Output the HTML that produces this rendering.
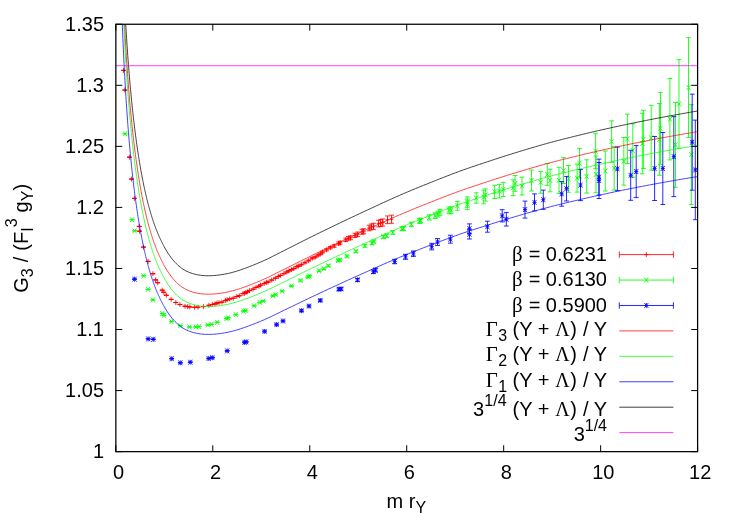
<!DOCTYPE html>
<html><head><meta charset="utf-8"><title>plot</title>
<style>html,body{margin:0;padding:0;background:#fff}body{width:732px;height:513px;overflow:hidden;font-family:"Liberation Sans",sans-serif}svg{display:block;will-change:transform}</style>
</head><body>
<svg width="732" height="513" viewBox="0 0 732 513">
<rect width="732" height="513" fill="#fff"/>
<g fill="none" stroke-linejoin="round">
<path d="M121.50,70.40H125.50M123.50,67.95V72.85M123.50,70.35V70.45M121.10,70.35H125.90M121.10,70.45H125.90M122.80,90.10H126.80M124.80,87.65V92.55M124.80,90.05V90.15M122.40,90.05H127.20M122.40,90.15H127.20M127.40,157.20H131.40M129.40,154.75V159.65M129.40,157.15V157.25M127.00,157.15H131.80M127.00,157.25H131.80M129.50,179.10H133.50M131.50,176.65V181.55M131.50,179.05V179.15M129.10,179.05H133.90M129.10,179.15H133.90M132.40,198.40H136.40M134.40,195.95V200.85M134.40,198.35V198.45M132.00,198.35H136.80M132.00,198.45H136.80M137.20,226.40H141.20M139.20,223.95V228.85M139.20,226.35V226.45M136.80,226.35H141.60M136.80,226.45H141.60M137.50,231.20H141.50M139.50,228.75V233.65M139.50,231.15V231.25M137.10,231.15H141.90M137.10,231.25H141.90M141.50,247.10H145.50M143.50,244.65V249.55M143.50,247.05V247.15M141.10,247.05H145.90M141.10,247.15H145.90M146.10,261.40H150.10M148.10,258.95V263.85M148.10,261.35V261.45M145.70,261.35H150.50M145.70,261.45H150.50M150.90,273.70H154.90M152.90,271.25V276.15M152.90,273.65V273.75M150.50,273.65H155.30M150.50,273.75H155.30M153.60,279.90H157.60M155.60,277.45V282.35M155.60,279.85V279.95M153.20,279.85H158.00M153.20,279.95H158.00M155.70,282.70H159.70M157.70,280.25V285.15M157.70,282.65V282.75M155.30,282.65H160.10M155.30,282.75H160.10M160.20,290.20H164.20M162.20,287.75V292.65M162.20,290.15V290.25M159.80,290.15H164.60M159.80,290.25H164.60M161.80,292.30H165.80M163.80,289.85V294.75M163.80,292.25V292.35M161.40,292.25H166.20M161.40,292.35H166.20M164.30,295.30H168.30M166.30,292.85V297.75M166.30,295.25V295.35M163.90,295.25H168.70M163.90,295.35H168.70M169.10,299.40H173.10M171.10,296.95V301.85M171.10,299.35V299.45M168.70,299.35H173.50M168.70,299.45H173.50M173.80,302.50H177.80M175.80,300.05V304.95M175.80,302.45V302.55M173.40,302.45H178.20M173.40,302.55H178.20M177.90,304.50H181.90M179.90,302.05V306.95M179.90,304.45V304.55M177.50,304.45H182.30M177.50,304.55H182.30M183.00,306.20H187.00M185.00,303.75V308.65M185.00,306.15V306.25M182.60,306.15H187.40M182.60,306.25H187.40M185.70,306.60H189.70M187.70,304.15V309.05M187.70,306.55V306.65M185.30,306.55H190.10M185.30,306.65H190.10M187.80,306.90H191.80M189.80,304.45V309.35M189.80,306.85V306.95M187.40,306.85H192.20M187.40,306.95H192.20M192.60,307.30H196.60M194.60,304.85V309.75M194.60,307.25V307.35M192.20,307.25H197.00M192.20,307.35H197.00M196.00,307.20H200.00M198.00,304.75V309.65M198.00,307.15V307.25M195.60,307.15H200.40M195.60,307.25H200.40M201.40,306.60H205.40M203.40,304.15V309.05M203.40,306.55V306.65M201.00,306.55H205.80M201.00,306.65H205.80M206.90,305.30H210.90M208.90,302.85V307.75M208.90,305.25V305.35M206.50,305.25H211.30M206.50,305.35H211.30M210.30,304.50H214.30M212.30,302.05V306.95M212.30,304.45V304.55M209.90,304.45H214.70M209.90,304.55H214.70M213.00,303.90H217.00M215.00,301.45V306.35M215.00,303.85V303.95M212.60,303.85H217.40M212.60,303.95H217.40M215.00,302.99H219.00M217.00,300.54V305.44M217.00,302.94V303.04M214.60,302.94H219.40M214.60,303.04H219.40M217.00,302.61H221.00M219.00,300.16V305.06M219.00,302.56V302.66M216.60,302.56H221.40M216.60,302.66H221.40M220.00,302.08H224.00M222.00,299.63V304.53M222.00,302.03V302.13M219.60,302.03H224.40M219.60,302.13H224.40M223.60,300.47H227.60M225.60,298.02V302.92M225.60,300.42V300.52M223.20,300.42H228.00M223.20,300.52H228.00M225.10,299.77H229.10M227.10,297.32V302.22M227.10,299.72V299.82M224.70,299.72H229.50M224.70,299.82H229.50M227.60,299.03H231.60M229.60,296.58V301.48M229.60,298.98V299.08M227.20,298.98H232.00M227.20,299.08H232.00M231.20,298.20H235.20M233.20,295.75V300.65M233.20,298.15V298.25M230.80,298.15H235.60M230.80,298.25H235.60M234.80,296.51H238.80M236.80,294.06V298.96M236.80,296.46V296.56M234.40,296.46H239.20M234.40,296.56H239.20M237.30,295.78H241.30M239.30,293.33V298.23M239.30,295.73V295.83M236.90,295.73H241.70M236.90,295.83H241.70M240.90,293.58H244.90M242.90,291.13V296.03M242.90,293.53V293.63M240.50,293.53H245.30M240.50,293.63H245.30M242.40,293.39H246.40M244.40,290.94V295.84M244.40,293.34V293.44M242.00,293.34H246.80M242.00,293.44H246.80M243.90,292.38H247.90M245.90,289.93V294.83M245.90,292.33V292.43M243.50,292.33H248.30M243.50,292.43H248.30M245.40,291.83H249.40M247.40,289.38V294.28M247.40,291.78V291.88M245.00,291.78H249.80M245.00,291.88H249.80M247.40,290.59H251.40M249.40,288.14V293.04M249.40,290.54V290.64M247.00,290.54H251.80M247.00,290.64H251.80M251.00,289.18H255.00M253.00,286.73V291.63M253.00,289.13V289.23M250.60,289.13H255.40M250.60,289.23H255.40M254.00,287.39H258.00M256.00,284.94V289.84M256.00,287.34V287.44M253.60,287.34H258.40M253.60,287.44H258.40M257.00,286.26H261.00M259.00,283.81V288.71M259.00,286.21V286.31M256.60,286.21H261.40M256.60,286.31H261.40M258.50,285.10H262.50M260.50,282.65V287.55M260.50,285.05V285.15M258.10,285.05H262.90M258.10,285.15H262.90M262.10,283.61H266.10M264.10,281.16V286.06M264.10,283.56V283.66M261.70,283.56H266.50M261.70,283.66H266.50M264.60,282.34H268.60M266.60,279.89V284.79M266.60,282.29V282.39M264.20,282.29H269.00M264.20,282.39H269.00M266.10,282.01H270.10M268.10,279.56V284.46M268.10,281.96V282.06M265.70,281.96H270.50M265.70,282.06H270.50M269.70,280.06H273.70M271.70,277.61V282.51M271.70,279.99V280.12M269.30,279.99H274.10M269.30,280.12H274.10M273.30,278.16H277.30M275.30,275.71V280.61M275.30,278.07V278.25M272.90,278.07H277.70M272.90,278.25H277.70M276.30,276.49H280.30M278.30,274.04V278.94M278.30,276.37V276.61M275.90,276.37H280.70M275.90,276.61H280.70M278.30,275.49H282.30M280.30,273.04V277.94M280.30,275.35V275.63M277.90,275.35H282.70M277.90,275.63H282.70M281.90,273.65H285.90M283.90,271.20V276.10M283.90,273.48V273.83M281.50,273.48H286.30M281.50,273.83H286.30M284.90,272.05H288.90M286.90,269.60V274.50M286.90,271.84V272.27M284.50,271.84H289.30M284.50,272.27H289.30M286.90,270.81H290.90M288.90,268.36V273.26M288.90,270.58V271.05M286.50,270.58H291.30M286.50,271.05H291.30M289.40,269.76H293.40M291.40,267.31V272.21M291.40,269.48V270.03M289.00,269.48H293.80M289.00,270.03H293.80M291.90,268.53H295.90M293.90,266.08V270.98M293.90,268.22V268.84M291.50,268.22H296.30M291.50,268.84H296.30M294.90,266.63H298.90M296.90,264.18V269.08M296.90,266.27V266.99M294.50,266.27H299.30M294.50,266.99H299.30M296.40,266.15H300.40M298.40,263.70V268.60M298.40,265.77V266.54M296.00,265.77H300.80M296.00,266.54H300.80M299.40,264.58H303.40M301.40,262.13V267.03M301.40,264.15V265.02M299.00,264.15H303.80M299.00,265.02H303.80M303.00,262.63H307.00M305.00,260.18V265.08M305.00,262.12V263.14M302.60,262.12H307.40M302.60,263.14H307.40M306.60,260.55H310.60M308.60,258.10V263.00M308.60,259.96V261.13M306.20,259.96H311.00M306.20,261.13H311.00M310.20,258.26H314.20M312.20,255.81V260.71M312.20,257.60V258.93M309.80,257.60H314.60M309.80,258.93H314.60M313.20,257.13H317.20M315.20,254.68V259.58M315.20,256.39V257.87M312.80,256.39H317.60M312.80,257.87H317.60M316.20,255.19H320.20M318.20,252.74V257.64M318.20,254.37V256.00M315.80,254.37H320.60M315.80,256.00H320.60M318.70,253.77H322.70M320.70,251.32V256.22M320.70,252.88V254.65M318.30,252.88H323.10M318.30,254.65H323.10M320.70,252.00H324.70M322.70,249.55V254.45M322.70,251.06V252.94M320.30,251.06H325.10M320.30,252.94H325.10M324.60,249.80H328.60M326.60,247.35V252.25M326.60,248.75V250.85M324.20,248.75H329.00M324.20,250.85H329.00M328.40,247.60H332.40M330.40,245.15V250.05M330.40,246.43V248.77M328.00,246.43H332.80M328.00,248.77H332.80M332.20,246.00H336.20M334.20,243.55V248.45M334.20,244.70V247.30M331.80,244.70H336.60M331.80,247.30H336.60M336.60,243.50H340.60M338.60,241.05V245.95M338.60,242.05V244.95M336.20,242.05H341.00M336.20,244.95H341.00M338.20,242.70H342.20M340.20,240.25V245.15M340.20,241.19V244.21M337.80,241.19H342.60M337.80,244.21H342.60M343.70,239.80H347.70M345.70,237.35V242.25M345.70,238.08V241.52M343.30,238.08H348.10M343.30,241.52H348.10M346.40,238.30H350.40M348.40,235.85V240.75M348.40,236.47V240.13M346.00,236.47H350.80M346.00,240.13H350.80M348.60,237.80H352.60M350.60,235.35V240.25M350.60,235.88V239.72M348.20,235.88H353.00M348.20,239.72H353.00M353.00,235.40H357.00M355.00,232.95V237.85M355.00,233.29V237.51M352.60,233.29H357.40M352.60,237.51H357.40M355.70,234.30H359.70M357.70,231.85V236.75M357.70,232.07V236.53M355.30,232.07H360.10M355.30,236.53H360.10M360.10,231.80H364.10M362.10,229.35V234.25M362.10,229.36V234.24M359.70,229.36H364.50M359.70,234.24H364.50M361.70,231.20H365.70M363.70,228.75V233.65M363.70,228.69V233.71M361.30,228.69H366.10M361.30,233.71H366.10M367.20,228.00H371.20M369.20,225.55V230.45M369.20,225.21V230.79M366.80,225.21H371.60M366.80,230.79H371.60M369.40,226.90H373.40M371.40,224.45V229.35M371.40,224.00V229.80M369.00,224.00H373.80M369.00,229.80H373.80M371.60,226.30H375.60M373.60,223.85V228.75M373.60,223.28V229.32M371.20,223.28H376.00M371.20,229.32H376.00M376.50,223.60H380.50M378.50,221.15V226.05M378.50,220.31V226.89M376.10,220.31H380.90M376.10,226.89H380.90M378.70,223.00H382.70M380.70,220.55V225.45M380.70,219.58V226.42M378.30,219.58H383.10M378.30,226.42H383.10M380.80,222.50H384.80M382.80,220.05V224.95M382.80,218.96V226.04M380.40,218.96H385.20M380.40,226.04H385.20M385.50,219.80H389.50M387.50,217.35V222.25M387.50,215.98V223.62M385.10,215.98H389.90M385.10,223.62H389.90M389.60,219.20H393.60M391.60,216.75V221.65M391.60,215.13V223.27M389.20,215.13H394.00M389.20,223.27H394.00" stroke="#f00" stroke-width="0.85"/>
<path d="M123.00,131.35L127.00,136.25M123.00,136.25L127.00,131.35M125.00,133.72V133.88M122.60,133.72H127.40M122.60,133.88H127.40M130.10,217.25L134.10,222.15M130.10,222.15L134.10,217.25M132.10,219.61V219.79M129.70,219.61H134.50M129.70,219.79H134.50M132.60,228.35L136.60,233.25M132.60,233.25L136.60,228.35M134.60,230.71V230.89M132.20,230.71H137.00M132.20,230.89H137.00M141.60,273.35L145.60,278.25M141.60,278.25L145.60,273.35M143.60,275.70V275.90M141.20,275.70H146.00M141.20,275.90H146.00M146.10,286.95L150.10,291.85M146.10,291.85L150.10,286.95M148.10,289.29V289.51M145.70,289.29H150.50M145.70,289.51H150.50M150.90,297.45L154.90,302.35M150.90,302.35L154.90,297.45M152.90,299.79V300.01M150.50,299.79H155.30M150.50,300.01H155.30M160.30,311.05L164.30,315.95M160.30,315.95L164.30,311.05M162.30,313.37V313.63M159.90,313.37H164.70M159.90,313.63H164.70M162.00,312.95L166.00,317.85M162.00,317.85L166.00,312.95M164.00,315.27V315.53M161.60,315.27H166.40M161.60,315.53H166.40M169.40,319.15L173.40,324.05M169.40,324.05L173.40,319.15M171.40,321.46V321.74M169.00,321.46H173.80M169.00,321.74H173.80M178.30,323.25L182.30,328.15M178.30,328.15L182.30,323.25M180.30,325.54V325.86M177.90,325.54H182.70M177.90,325.86H182.70M187.50,324.55L191.50,329.45M187.50,329.45L191.50,324.55M189.50,326.83V327.17M187.10,326.83H191.90M187.10,327.17H191.90M193.70,324.55L197.70,329.45M193.70,329.45L197.70,324.55M195.70,326.81V327.19M193.30,326.81H198.10M193.30,327.19H198.10M197.00,324.15L201.00,329.05M197.00,329.05L201.00,324.15M199.00,326.41V326.79M196.60,326.41H201.40M196.60,326.79H201.40M205.90,322.55L209.90,327.45M205.90,327.45L209.90,322.55M207.90,324.79V325.21M205.50,324.79H210.30M205.50,325.21H210.30M209.40,321.85L213.40,326.75M209.40,326.75L213.40,321.85M211.40,324.08V324.52M209.00,324.08H213.80M209.00,324.52H213.80M215.20,319.85L219.20,324.75M215.20,324.75L219.20,319.85M217.20,322.06V322.54M214.80,322.06H219.60M214.80,322.54H219.60M224.50,316.15L228.50,321.05M224.50,321.05L228.50,316.15M226.50,318.33V318.87M224.10,318.33H228.90M224.10,318.87H228.90M226.10,315.35L230.10,320.25M226.10,320.25L230.10,315.35M228.10,317.53V318.07M225.70,317.53H230.50M225.70,318.07H230.50M233.80,312.25L237.80,317.15M233.80,317.15L237.80,312.25M235.80,314.41V314.99M233.40,314.41H238.20M233.40,314.99H238.20M241.60,308.65L245.60,313.55M241.60,313.55L245.60,308.65M243.60,310.78V311.42M241.20,310.78H246.00M241.20,311.42H246.00M243.50,308.05L247.50,312.95M243.50,312.95L247.50,308.05M245.50,310.17V310.83M243.10,310.17H247.90M243.10,310.83H247.90M252.20,303.35L256.20,308.25M252.20,308.25L256.20,303.35M254.20,305.44V306.16M251.80,305.44H256.60M251.80,306.16H256.60M257.70,300.05L261.70,304.95M257.70,304.95L261.70,300.05M259.70,302.11V302.89M257.30,302.11H262.10M257.30,302.89H262.10M261.30,298.55L265.30,303.45M261.30,303.45L265.30,298.55M263.30,300.60V301.40M260.90,300.60H265.70M260.90,301.40H265.70M270.90,293.45L274.90,298.35M270.90,298.35L274.90,293.45M272.90,295.45V296.35M270.50,295.45H275.30M270.50,296.35H275.30M273.60,292.15L277.60,297.05M273.60,297.05L277.60,292.15M275.60,294.14V295.06M273.20,294.14H278.00M273.20,295.06H278.00M280.20,288.75L284.20,293.65M280.20,293.65L284.20,288.75M282.20,290.70V291.70M279.80,290.70H284.60M279.80,291.70H284.60M289.50,283.45L293.50,288.35M289.50,288.35L293.50,283.45M291.50,285.35V286.45M289.10,285.35H293.90M289.10,286.45H293.90M298.50,278.05L302.50,282.95M298.50,282.95L302.50,278.05M300.50,279.89V281.11M298.10,279.89H302.90M298.10,281.11H302.90M305.90,274.45L309.90,279.35M305.90,279.35L309.90,274.45M307.90,276.23V277.57M305.50,276.23H310.30M305.50,277.57H310.30M307.50,273.65L311.50,278.55M307.50,278.55L311.50,273.65M309.50,275.42V276.78M307.10,275.42H311.90M307.10,276.78H311.90M317.00,268.35L321.00,273.25M317.00,273.25L321.00,268.35M319.00,270.04V271.56M316.60,270.04H321.40M316.60,271.56H321.40M321.80,266.25L325.80,271.15M321.80,271.15L325.80,266.25M323.80,267.90V269.50M321.40,267.90H326.20M321.40,269.50H326.20M326.40,263.25L330.40,268.15M326.40,268.15L330.40,263.25M328.40,264.86V266.54M326.00,264.86H330.80M326.00,266.54H330.80M336.20,258.05L340.20,262.95M336.20,262.95L340.20,258.05M338.20,259.56V261.44M335.80,259.56H340.60M335.80,261.44H340.60M337.80,257.45L341.80,262.35M337.80,262.35L341.80,257.45M339.80,258.94V260.86M337.40,258.94H342.20M337.40,260.86H342.20M344.90,253.65L348.90,258.55M344.90,258.55L348.90,253.65M346.90,255.06V257.14M344.50,255.06H349.30M344.50,257.14H349.30M353.90,248.85L357.90,253.75M353.90,253.75L357.90,248.85M355.90,250.15V252.45M353.50,250.15H358.30M353.50,252.45H358.30M362.90,243.45L366.90,248.35M362.90,248.35L366.90,243.45M364.90,244.62V247.18M362.50,244.62H367.30M362.50,247.18H367.30M370.00,240.65L374.00,245.55M370.00,245.55L374.00,240.65M372.00,241.71V244.49M369.60,241.71H374.40M369.60,244.49H374.40M371.90,239.05L375.90,243.95M371.90,243.95L375.90,239.05M373.90,240.08V242.92M371.50,240.08H376.30M371.50,242.92H376.30M381.40,234.45L385.40,239.35M381.40,239.35L385.40,234.45M383.40,235.32V238.48M381.00,235.32H385.80M381.00,238.48H385.80M384.70,233.25L388.70,238.15M384.70,238.15L388.70,233.25M386.70,234.06V237.34M384.30,234.06H389.10M384.30,237.34H389.10M390.80,230.05L394.80,234.95M390.80,234.95L394.80,230.05M392.80,230.75V234.25M390.40,230.75H395.20M390.40,234.25H395.20M400.00,226.25L404.00,231.15M400.00,231.15L404.00,226.25M402.00,226.75V230.65M399.60,226.75H404.40M399.60,230.65H404.40M401.60,225.95L405.60,230.85M401.60,230.85L405.60,225.95M403.60,226.42V230.38M401.20,226.42H406.00M401.20,230.38H406.00M409.30,221.85L413.30,226.75M409.30,226.75L413.30,221.85M411.30,222.13V226.47M408.90,222.13H413.70M408.90,226.47H413.70M417.50,218.55L421.50,223.45M417.50,223.45L421.50,218.55M419.50,218.62V223.38M417.10,218.62H421.90M417.10,223.38H421.90M418.70,218.05L422.70,222.95M418.70,222.95L422.70,218.05M420.70,218.09V222.91M418.30,218.09H423.10M418.30,222.91H423.10M427.30,214.95L431.30,219.85M427.30,219.85L431.30,214.95M429.30,214.74V220.06M426.90,214.74H431.70M426.90,220.06H431.70M433.10,213.25L437.10,218.15M433.10,218.15L437.10,213.25M435.10,212.86V218.54M432.70,212.86H437.50M432.70,218.54H437.50M436.00,211.65L440.00,216.55M436.00,216.55L440.00,211.65M438.00,211.17V217.03M435.60,211.17H440.40M435.60,217.03H440.40M438.00,209.85L442.00,214.75M438.00,214.75L442.00,209.85M440.00,209.30V215.30M437.60,209.30H442.40M437.60,215.30H442.40M446.90,207.85L450.90,212.75M446.90,212.75L450.90,207.85M448.90,206.90V213.70M446.50,206.90H451.30M446.50,213.70H451.30M449.20,207.85L453.20,212.75M449.20,212.75L453.20,207.85M451.20,206.90V213.70M448.80,206.90H453.60M448.80,213.70H453.60M455.30,203.35L459.30,208.25M455.30,208.25L459.30,203.35M457.30,201.40V210.20M454.90,201.40H459.70M454.90,210.20H459.70M465.30,199.65L469.30,204.55M465.30,204.55L469.30,199.65M467.30,196.90V207.30M464.90,196.90H469.70M464.90,207.30H469.70M465.30,201.75L469.30,206.65M465.30,206.65L469.30,201.75M467.30,199.00V209.40M464.90,199.00H469.70M464.90,209.40H469.70M474.20,195.55L478.20,200.45M474.20,200.45L478.20,195.55M476.20,192.80V203.20M473.80,192.80H478.60M473.80,203.20H478.60M481.70,194.55L485.70,199.45M481.70,199.45L485.70,194.55M483.70,190.20V203.80M481.30,190.20H486.10M481.30,203.80H486.10M483.40,192.55L487.40,197.45M483.40,197.45L487.40,192.55M485.40,188.90V201.10M483.00,188.90H487.80M483.00,201.10H487.80M492.60,189.45L496.60,194.35M492.60,194.35L496.60,189.45M494.60,185.30V198.50M492.20,185.30H497.00M492.20,198.50H497.00M497.40,188.75L501.40,193.65M497.40,193.65L501.40,188.75M499.40,184.40V198.00M497.00,184.40H501.80M497.00,198.00H501.80M501.30,186.95L505.30,191.85M501.30,191.85L505.30,186.95M503.30,182.30V196.50M500.90,182.30H505.70M500.90,196.50H505.70M511.10,185.35L515.10,190.25M511.10,190.25L515.10,185.35M513.10,179.90V195.70M510.70,179.90H515.50M510.70,195.70H515.50M513.10,180.95L517.10,185.85M513.10,185.85L517.10,180.95M515.10,175.50V191.30M512.70,175.50H517.50M512.70,191.30H517.50M520.00,183.65L524.00,188.55M520.00,188.55L524.00,183.65M522.00,177.20V195.00M519.60,177.20H524.40M519.60,195.00H524.40M529.50,178.05L533.50,182.95M529.50,182.95L533.50,178.05M531.50,170.00V191.00M529.10,170.00H533.90M529.10,191.00H533.90M538.70,179.85L542.70,184.75M538.70,184.75L542.70,179.85M540.70,171.40V193.20M538.30,171.40H543.10M538.30,193.20H543.10M545.30,171.95L549.30,176.85M545.30,176.85L549.30,171.95M547.30,163.50V185.30M544.90,163.50H549.70M544.90,185.30H549.70M548.10,178.05L552.10,182.95M548.10,182.95L552.10,178.05M550.10,169.20V191.80M547.70,169.20H552.50M547.70,191.80H552.50M557.00,177.85L561.00,182.75M557.00,182.75L561.00,177.85M559.00,167.30V193.30M556.60,167.30H561.40M556.60,193.30H561.40M561.50,168.15L565.50,173.05M561.50,173.05L565.50,168.15M563.50,157.70V183.50M561.10,157.70H565.90M561.10,183.50H565.90M566.50,176.45L570.50,181.35M566.50,181.35L570.50,176.45M568.50,165.50V192.30M566.10,165.50H570.90M566.10,192.30H570.90M575.10,175.65L579.10,180.55M575.10,180.55L579.10,175.65M577.10,164.10V192.10M574.70,164.10H579.50M574.70,192.10H579.50M577.50,160.75L581.50,165.65M577.50,165.65L581.50,160.75M579.50,148.40V178.00M577.10,148.40H581.90M577.10,178.00H581.90M584.70,173.95L588.70,178.85M584.70,178.85L588.70,173.95M586.70,159.80V193.00M584.30,159.80H589.10M584.30,193.00H589.10M593.60,148.75L597.60,153.65M593.60,153.65L597.60,148.75M595.60,133.70V168.70M593.20,133.70H598.00M593.20,168.70H598.00M594.00,171.95L598.00,176.85M594.00,176.85L598.00,171.95M596.00,156.00V192.80M593.60,156.00H598.40M593.60,192.80H598.40M603.30,168.55L607.30,173.45M603.30,173.45L607.30,168.55M605.30,151.00V191.00M602.90,151.00H607.70M602.90,191.00H607.70M609.60,139.15L613.60,144.05M609.60,144.05L613.60,139.15M611.60,120.80V162.40M609.20,120.80H614.00M609.20,162.40H614.00M612.20,165.75L616.20,170.65M612.20,170.65L616.20,165.75M614.20,146.40V190.00M611.80,146.40H616.60M611.80,190.00H616.60M621.80,158.85L625.80,163.75M621.80,163.75L625.80,158.85M623.80,137.50V185.10M621.40,137.50H626.20M621.40,185.10H626.20M625.40,136.45L629.40,141.35M625.40,141.35L629.40,136.45M627.40,114.20V163.60M625.00,114.20H629.80M625.00,163.60H629.80M630.80,148.05L634.80,152.95M630.80,152.95L634.80,148.05M632.80,123.80V177.20M630.40,123.80H635.20M630.40,177.20H635.20M640.30,141.05L644.30,145.95M640.30,145.95L644.30,141.05M642.30,113.20V173.80M639.90,113.20H644.70M639.90,173.80H644.70M641.40,136.95L645.40,141.85M641.40,141.85L645.40,136.95M643.40,110.30V168.50M641.00,110.30H645.80M641.00,168.50H645.80M649.20,135.25L653.20,140.15M649.20,140.15L653.20,135.25M651.20,105.30V170.10M648.80,105.30H653.60M648.80,170.10H653.60M657.40,136.95L661.40,141.85M657.40,141.85L661.40,136.95M659.40,103.50V175.30M657.00,103.50H661.80M657.00,175.30H661.80M658.50,126.05L662.50,130.95M658.50,130.95L662.50,126.05M660.50,92.60V164.40M658.10,92.60H662.90M658.10,164.40H662.90M667.90,116.75L671.90,121.65M667.90,121.65L671.90,116.75M669.90,78.50V159.90M667.50,78.50H672.30M667.50,159.90H672.30M673.50,142.45L677.50,147.35M673.50,147.35L677.50,142.45M675.50,102.50V187.30M673.10,102.50H677.90M673.10,187.30H677.90M677.00,101.45L681.00,106.35M677.00,106.35L681.00,101.45M679.00,59.60V148.20M676.60,59.60H681.40M676.60,148.20H681.40M686.50,85.15L690.50,90.05M686.50,90.05L690.50,85.15M688.50,37.60V137.60M686.10,37.60H690.90M686.10,137.60H690.90M689.30,152.15L693.30,157.05M689.30,157.05L693.30,152.15M691.30,104.60V204.60M688.90,104.60H693.70M688.90,204.60H693.70" stroke="#0f0" stroke-width="0.85"/>
<path d="M132.55,279.15H136.55M134.55,276.70V281.60M132.55,276.70L136.55,281.60M132.55,281.60L136.55,276.70M134.55,279.00V279.30M132.15,279.00H136.95M132.15,279.30H136.95M146.20,338.90H150.20M148.20,336.45V341.35M146.20,336.45L150.20,341.35M146.20,341.35L150.20,336.45M148.20,338.72V339.08M145.80,338.72H150.60M145.80,339.08H150.60M151.30,339.30H155.30M153.30,336.85V341.75M151.30,336.85L155.30,341.75M151.30,341.75L155.30,336.85M153.30,339.11V339.49M150.90,339.11H155.70M150.90,339.49H155.70M169.70,358.70H173.70M171.70,356.25V361.15M169.70,356.25L173.70,361.15M169.70,361.15L173.70,356.25M171.70,358.48V358.92M169.30,358.48H174.10M169.30,358.92H174.10M178.30,362.80H182.30M180.30,360.35V365.25M178.30,360.35L182.30,365.25M178.30,365.25L182.30,360.35M180.30,362.56V363.04M177.90,362.56H182.70M177.90,363.04H182.70M188.30,362.20H192.30M190.30,359.75V364.65M188.30,359.75L192.30,364.65M188.30,364.65L192.30,359.75M190.30,361.93V362.47M187.90,361.93H192.70M187.90,362.47H192.70M206.70,358.50H210.70M208.70,356.05V360.95M206.70,356.05L210.70,360.95M206.70,360.95L210.70,356.05M208.70,358.17V358.83M206.30,358.17H211.10M206.30,358.83H211.10M210.40,357.70H214.40M212.40,355.25V360.15M210.40,355.25L214.40,360.15M210.40,360.15L214.40,355.25M212.40,357.36V358.04M210.00,357.36H214.80M210.00,358.04H214.80M225.20,350.90H229.20M227.20,348.45V353.35M225.20,348.45L229.20,353.35M225.20,353.35L229.20,348.45M227.20,350.50V351.30M224.80,350.50H229.60M224.80,351.30H229.60M242.50,342.30H246.50M244.50,339.85V344.75M242.50,339.85L246.50,344.75M242.50,344.75L246.50,339.85M244.50,341.83V342.77M242.10,341.83H246.90M242.10,342.77H246.90M244.20,341.90H248.20M246.20,339.45V344.35M244.20,339.45L248.20,344.35M244.20,344.35L248.20,339.45M246.20,341.42V342.38M243.80,341.42H248.60M243.80,342.38H248.60M262.60,331.40H266.60M264.60,328.95V333.85M262.60,328.95L266.60,333.85M262.60,333.85L266.60,328.95M264.60,330.82V331.98M262.20,330.82H267.00M262.20,331.98H267.00M274.60,324.60H278.60M276.60,322.15V327.05M274.60,322.15L278.60,327.05M274.60,327.05L278.60,322.15M276.60,323.94V325.26M274.20,323.94H279.00M274.20,325.26H279.00M281.00,321.00H285.00M283.00,318.55V323.45M281.00,318.55L285.00,323.45M281.00,323.45L285.00,318.55M283.00,320.29V321.71M280.60,320.29H285.40M280.60,321.71H285.40M299.50,310.70H303.50M301.50,308.25V313.15M299.50,308.25L303.50,313.15M299.50,313.15L303.50,308.25M301.50,309.85V311.55M299.10,309.85H303.90M299.10,311.55H303.90M307.00,306.10H311.00M309.00,303.65V308.55M307.00,303.65L311.00,308.55M307.00,308.55L311.00,303.65M309.00,305.18V307.02M306.60,305.18H311.40M306.60,307.02H311.40M318.30,300.40H322.30M320.30,297.95V302.85M318.30,297.95L322.30,302.85M318.30,302.85L322.30,297.95M320.30,299.36V301.44M317.90,299.36H322.70M317.90,301.44H322.70M336.90,289.30H340.90M338.90,286.85V291.75M336.90,286.85L340.90,291.75M336.90,291.75L340.90,286.85M338.90,288.04V290.56M336.50,288.04H341.30M336.50,290.56H341.30M339.10,288.90H343.10M341.10,286.45V291.35M339.10,286.45L343.10,291.35M339.10,291.35L343.10,286.45M341.10,287.62V290.18M338.70,287.62H343.50M338.70,290.18H343.50M355.50,279.90H359.50M357.50,277.45V282.35M355.50,277.45L359.50,282.35M355.50,282.35L359.50,277.45M357.50,278.38V281.42M355.10,278.38H359.90M355.10,281.42H359.90M371.40,271.70H375.40M373.40,269.25V274.15M371.40,269.25L375.40,274.15M371.40,274.15L375.40,269.25M373.40,269.91V273.49M371.00,269.91H375.80M371.00,273.49H375.80M373.60,270.10H377.60M375.60,267.65V272.55M373.60,267.65L377.60,272.55M373.60,272.55L377.60,267.65M375.60,268.27V271.93M373.20,268.27H378.00M373.20,271.93H378.00M392.70,261.50H396.70M394.70,259.05V263.95M392.70,259.05L396.70,263.95M392.70,263.95L396.70,259.05M394.70,259.27V263.73M392.30,259.27H397.10M392.30,263.73H397.10M403.50,256.80H407.50M405.50,254.35V259.25M403.50,254.35L407.50,259.25M403.50,259.25L407.50,254.35M405.50,254.31V259.29M403.10,254.31H407.90M403.10,259.29H407.90M411.40,253.70H415.40M413.40,251.25V256.15M411.40,251.25L415.40,256.15M411.40,256.15L415.40,251.25M413.40,250.99V256.41M411.00,250.99H415.80M411.00,256.41H415.80M429.70,246.60H433.70M431.70,244.15V249.05M429.70,244.15L433.70,249.05M429.70,249.05L433.70,244.15M431.70,243.33V249.87M429.30,243.33H434.10M429.30,249.87H434.10M435.50,242.00H439.50M437.50,239.55V244.45M435.50,239.55L439.50,244.45M435.50,244.45L439.50,239.55M437.50,238.53V245.47M435.10,238.53H439.90M435.10,245.47H439.90M448.40,239.20H452.40M450.40,236.75V241.65M448.40,236.75L452.40,241.65M448.40,241.65L452.40,236.75M450.40,235.24V243.16M448.00,235.24H452.80M448.00,243.16H452.80M467.40,228.70H471.40M469.40,226.25V231.15M467.40,226.25L471.40,231.15M467.40,231.15L471.40,226.25M469.40,223.90V233.50M467.00,223.90H471.80M467.00,233.50H471.80M467.40,234.20H471.40M469.40,231.75V236.65M467.40,231.75L471.40,236.65M467.40,236.65L471.40,231.75M469.40,229.40V239.00M467.00,229.40H471.80M467.00,239.00H471.80M485.40,226.70H489.40M487.40,224.25V229.15M485.40,224.25L489.40,229.15M485.40,229.15L489.40,224.25M487.40,221.20V232.20M485.00,221.20H489.80M485.00,232.20H489.80M500.20,215.80H504.20M502.20,213.35V218.25M500.20,213.35L504.20,218.25M500.20,218.25L504.20,213.35M502.20,209.70V221.90M499.80,209.70H504.60M499.80,221.90H504.60M504.30,219.20H508.30M506.30,216.75V221.65M504.30,216.75L508.30,221.65M504.30,221.65L508.30,216.75M506.30,212.40V226.00M503.90,212.40H508.70M503.90,226.00H508.70M523.00,209.60H527.00M525.00,207.15V212.05M523.00,207.15L527.00,212.05M523.00,212.05L527.00,207.15M525.00,201.10V218.10M522.60,201.10H527.40M522.60,218.10H527.40M532.50,202.40H536.50M534.50,199.95V204.85M532.50,199.95L536.50,204.85M532.50,204.85L536.50,199.95M534.50,193.90V210.90M532.10,193.90H536.90M532.10,210.90H536.90M541.30,199.70H545.30M543.30,197.25V202.15M541.30,197.25L545.30,202.15M541.30,202.15L545.30,197.25M543.30,190.10V209.30M540.90,190.10H545.70M540.90,209.30H545.70M559.70,193.90H563.70M561.70,191.45V196.35M559.70,191.45L563.70,196.35M559.70,196.35L563.70,191.45M561.70,181.60V206.20M559.30,181.60H564.10M559.30,206.20H564.10M564.50,188.70H568.50M566.50,186.25V191.15M564.50,186.25L568.50,191.15M564.50,191.15L568.50,186.25M566.50,176.40V201.00M564.10,176.40H568.90M564.10,201.00H568.90M578.50,185.10H582.50M580.50,182.65V187.55M578.50,182.65L582.50,187.55M578.50,187.55L582.50,182.65M580.50,169.60V200.60M578.10,169.60H582.90M578.10,200.60H582.90M597.00,177.10H601.00M599.00,174.65V179.55M597.00,174.65L601.00,179.55M597.00,179.55L601.00,174.65M599.00,159.10V195.10M596.60,159.10H601.40M596.60,195.10H601.40M597.00,180.50H601.00M599.00,178.05V182.95M597.00,178.05L601.00,182.95M597.00,182.95L601.00,178.05M599.00,162.50V198.50M596.60,162.50H601.40M596.60,198.50H601.40M615.40,168.90H619.40M617.40,166.45V171.35M615.40,166.45L619.40,171.35M615.40,171.35L619.40,166.45M617.40,147.10V190.70M615.00,147.10H619.80M615.00,190.70H619.80M628.70,175.30H632.70M630.70,172.85V177.75M628.70,172.85L632.70,177.75M628.70,177.75L632.70,172.85M630.70,150.30V200.30M628.30,150.30H633.10M628.30,200.30H633.10M634.20,171.60H638.20M636.20,169.15V174.05M634.20,169.15L638.20,174.05M634.20,174.05L638.20,169.15M636.20,145.60V197.60M633.80,145.60H638.60M633.80,197.60H638.60M652.60,168.50H656.60M654.60,166.05V170.95M652.60,166.05L656.60,170.95M652.60,170.95L656.60,166.05M654.60,136.50V200.50M652.20,136.50H657.00M652.20,200.50H657.00M660.80,168.50H664.80M662.80,166.05V170.95M660.80,166.05L664.80,170.95M660.80,170.95L664.80,166.05M662.80,132.50V204.50M660.40,132.50H665.20M660.40,204.50H665.20M671.80,156.60H675.80M673.80,154.15V159.05M671.80,154.15L675.80,159.05M671.80,159.05L675.80,154.15M673.80,116.60V196.60M671.40,116.60H676.20M671.40,196.60H676.20M690.20,142.20H694.20M692.20,139.75V144.65M690.20,139.75L694.20,144.65M690.20,144.65L694.20,139.75M692.20,94.20V190.20M689.80,94.20H694.60M689.80,190.20H694.60M693.30,169.90H697.30M695.30,167.45V172.35M693.30,167.45L697.30,172.35M693.30,172.35L697.30,167.45M695.30,120.10V219.70M692.90,120.10H697.70M692.90,219.70H697.70" stroke="#00f" stroke-width="0.85"/>
<path d="M124.52,24.30 L124.52,24.40 L124.75,28.80 L124.98,33.08 L125.22,37.24 L125.45,41.29 L125.68,45.24 L125.91,49.08 L126.14,52.83 L126.37,56.49 L126.60,60.07 L126.84,63.56 L127.07,66.97 L127.30,70.30 L127.53,73.56 L127.76,76.75 L127.99,79.87 L128.22,82.92 L128.45,85.91 L128.69,88.85 L128.92,91.72 L129.15,94.53 L129.38,97.29 L129.61,100.00 L129.84,102.66 L130.07,105.26 L130.31,107.82 L130.54,110.33 L130.77,112.80 L131.00,115.22 L131.23,117.61 L131.46,119.94 L131.69,122.24 L131.93,124.50 L132.16,126.73 L132.39,128.91 L132.62,131.06 L132.85,133.17 L133.08,135.25 L133.31,137.30 L133.55,139.32 L133.78,141.30 L134.01,143.25 L134.24,145.17 L134.47,147.07 L134.70,148.93 L134.93,150.77 L135.17,152.58 L135.40,154.36 L135.63,156.11 L135.86,157.85 L136.09,159.55 L136.32,161.23 L136.55,162.89 L136.79,164.52 L137.02,166.13 L137.25,167.72 L137.48,169.29 L137.71,170.83 L137.94,172.36 L138.17,173.86 L138.40,175.34 L138.64,176.81 L138.87,178.25 L139.10,179.67 L139.33,181.08 L139.56,182.47 L139.79,183.83 L140.02,185.19 L140.26,186.52 L140.49,187.84 L140.72,189.14 L140.95,190.42 L141.18,191.69 L141.41,192.94 L141.64,194.17 L141.88,195.39 L142.11,196.59 L142.34,197.78 L142.57,198.96 L142.80,200.12 L143.03,201.27 L143.26,202.40 L143.50,203.52 L143.73,204.62 L143.96,205.71 L144.19,206.79 L144.42,207.86 L144.65,208.91 L144.88,209.95 L145.12,210.98 L145.35,211.99 L145.58,212.99 L145.81,213.98 L146.04,214.96 L146.27,215.93 L146.50,216.89 L146.73,217.83 L146.97,218.76 L147.20,219.69 L147.43,220.60 L147.66,221.50 L147.89,222.39 L148.12,223.28 L148.35,224.15 L148.59,225.01 L148.82,225.86 L149.05,226.70 L149.28,227.53 L149.51,228.36 L149.74,229.17 L149.97,229.98 L150.21,230.77 L150.44,231.55 L150.67,232.32 L150.90,233.08 L151.13,233.83 L151.36,234.58 L151.59,235.31 L151.83,236.04 L152.06,236.76 L152.29,237.47 L152.52,238.18 L152.75,238.88 L152.98,239.56 L153.21,240.24 L153.45,240.92 L153.68,241.58 L153.91,242.24 L154.14,242.89 L154.37,243.54 L154.60,244.17 L154.83,244.80 L155.07,245.43 L155.30,246.04 L155.53,246.65 L155.76,247.26 L155.99,247.85 L156.22,248.44 L156.45,249.03 L156.68,249.61 L156.92,250.18 L157.15,250.74 L157.38,251.30 L157.61,251.85 L157.84,252.40 L158.07,252.94 L158.30,253.47 L158.54,254.00 L158.77,254.52 L159.00,255.04 L159.23,255.55 L159.46,256.06 L159.69,256.56 L159.92,257.05 L160.16,257.55 L160.39,258.05 L160.62,258.54 L160.85,259.03 L161.08,259.51 L161.31,259.99 L161.54,260.46 L161.78,260.93 L162.01,261.39 L162.24,261.85 L162.47,262.30 L162.70,262.75 L162.93,263.19 L163.16,263.63 L163.40,264.06 L163.63,264.49 L163.86,264.91 L164.09,265.33 L164.32,265.75 L165.66,268.08 L166.99,270.30 L168.33,272.38 L169.67,274.34 L171.00,276.16 L172.34,277.86 L173.67,279.46 L175.01,280.95 L176.35,282.30 L177.68,283.57 L179.02,284.75 L180.36,285.83 L181.69,286.80 L183.03,287.70 L184.37,288.53 L185.70,289.26 L187.04,289.92 L188.37,290.51 L189.71,291.04 L191.05,291.53 L192.38,291.97 L193.72,292.36 L195.06,292.70 L196.39,293.01 L197.73,293.28 L199.06,293.51 L200.40,293.70 L201.74,293.86 L203.07,293.99 L204.41,294.08 L205.75,294.14 L207.08,294.18 L208.42,294.19 L209.75,294.17 L211.09,294.14 L212.43,294.08 L213.76,294.00 L215.10,293.89 L216.44,293.76 L217.77,293.61 L219.11,293.44 L220.44,293.26 L221.78,293.06 L223.12,292.85 L224.45,292.61 L225.79,292.37 L227.13,292.11 L228.46,291.83 L229.80,291.54 L231.14,291.21 L232.47,290.87 L233.81,290.51 L235.14,290.14 L236.48,289.73 L237.82,289.32 L239.15,288.89 L240.49,288.44 L241.83,287.98 L243.16,287.51 L244.50,287.04 L245.83,286.55 L247.17,286.05 L248.51,285.55 L249.84,285.03 L251.18,284.52 L252.52,283.99 L253.85,283.46 L255.19,282.92 L256.52,282.37 L257.86,281.82 L259.20,281.26 L260.53,280.69 L261.87,280.11 L263.21,279.53 L264.54,278.94 L265.88,278.33 L267.22,277.70 L268.55,277.07 L269.89,276.44 L271.22,275.78 L272.56,275.11 L273.90,274.44 L275.23,273.76 L276.57,273.10 L277.91,272.43 L279.24,271.75 L280.58,271.08 L281.91,270.42 L283.25,269.76 L284.59,269.10 L285.92,268.43 L287.26,267.77 L288.60,267.10 L289.93,266.44 L291.27,265.77 L292.60,265.10 L293.94,264.44 L295.28,263.77 L296.61,263.10 L297.95,262.44 L299.29,261.77 L300.62,261.10 L301.96,260.44 L303.29,259.77 L304.63,259.11 L305.97,258.45 L307.30,257.79 L308.64,257.13 L309.98,256.47 L311.31,255.82 L312.65,255.16 L313.99,254.51 L315.32,253.86 L316.66,253.21 L317.99,252.56 L319.33,251.92 L320.67,251.27 L322.00,250.63 L323.34,249.98 L324.68,249.34 L326.01,248.70 L327.35,248.06 L328.68,247.43 L330.02,246.79 L331.36,246.15 L332.69,245.51 L334.03,244.88 L335.37,244.24 L336.70,243.61 L338.04,242.97 L339.37,242.34 L340.71,241.71 L342.05,241.08 L343.38,240.45 L344.72,239.82 L346.06,239.19 L347.39,238.56 L348.73,237.94 L350.06,237.31 L351.40,236.69 L352.74,236.07 L354.07,235.45 L355.41,234.83 L356.75,234.21 L358.08,233.60 L359.42,232.98 L360.76,232.37 L362.09,231.75 L363.43,231.14 L364.76,230.53 L366.10,229.91 L367.44,229.30 L368.77,228.69 L370.11,228.08 L371.45,227.46 L372.78,226.85 L374.12,226.24 L375.45,225.63 L376.79,225.02 L378.13,224.41 L379.46,223.80 L380.80,223.19 L382.14,222.58 L383.47,221.97 L384.81,221.37 L386.14,220.76 L387.48,220.16 L388.82,219.56 L390.15,218.97 L391.49,218.37 L392.83,217.78 L394.16,217.19 L395.50,216.61 L396.84,216.03 L398.17,215.45 L399.51,214.87 L400.84,214.30 L402.18,213.73 L403.52,213.17 L404.85,212.61 L406.19,212.05 L407.53,211.49 L408.86,210.94 L410.20,210.38 L411.53,209.83 L412.87,209.29 L414.21,208.74 L415.54,208.20 L416.88,207.65 L418.22,207.11 L419.55,206.58 L420.89,206.04 L422.22,205.50 L423.56,204.97 L424.90,204.44 L426.23,203.91 L427.57,203.38 L428.91,202.85 L430.24,202.32 L431.58,201.79 L432.91,201.27 L434.25,200.74 L435.59,200.22 L436.92,199.69 L438.26,199.17 L439.60,198.65 L440.93,198.12 L442.27,197.60 L443.61,197.09 L444.94,196.57 L446.28,196.06 L447.61,195.54 L448.95,195.03 L450.29,194.53 L451.62,194.02 L452.96,193.52 L454.30,193.02 L455.63,192.52 L456.97,192.03 L458.30,191.54 L459.64,191.06 L460.98,190.58 L462.31,190.10 L463.65,189.63 L464.99,189.16 L466.32,188.70 L467.66,188.24 L468.99,187.78 L470.33,187.33 L471.67,186.88 L473.00,186.43 L474.34,185.99 L475.68,185.54 L477.01,185.10 L478.35,184.66 L479.68,184.23 L481.02,183.79 L482.36,183.35 L483.69,182.91 L485.03,182.48 L486.37,182.04 L487.70,181.60 L489.04,181.17 L490.38,180.73 L491.71,180.29 L493.05,179.86 L494.38,179.42 L495.72,178.99 L497.06,178.56 L498.39,178.13 L499.73,177.70 L501.07,177.27 L502.40,176.85 L503.74,176.43 L505.07,176.01 L506.41,175.59 L507.75,175.17 L509.08,174.76 L510.42,174.34 L511.76,173.93 L513.09,173.52 L514.43,173.11 L515.76,172.71 L517.10,172.30 L518.44,171.90 L519.77,171.50 L521.11,171.10 L522.45,170.70 L523.78,170.30 L525.12,169.90 L526.46,169.50 L527.79,169.11 L529.13,168.72 L530.46,168.32 L531.80,167.93 L533.14,167.54 L534.47,167.15 L535.81,166.77 L537.15,166.38 L538.48,166.00 L539.82,165.62 L541.15,165.24 L542.49,164.87 L543.83,164.49 L545.16,164.12 L546.50,163.75 L547.84,163.39 L549.17,163.02 L550.51,162.66 L551.84,162.31 L553.18,161.95 L554.52,161.60 L555.85,161.25 L557.19,160.91 L558.53,160.57 L559.86,160.23 L561.20,159.89 L562.53,159.56 L563.87,159.22 L565.21,158.89 L566.54,158.56 L567.88,158.23 L569.22,157.91 L570.55,157.58 L571.89,157.25 L573.23,156.93 L574.56,156.61 L575.90,156.28 L577.23,155.96 L578.57,155.64 L579.91,155.31 L581.24,154.99 L582.58,154.67 L583.92,154.35 L585.25,154.03 L586.59,153.71 L587.92,153.40 L589.26,153.08 L590.60,152.77 L591.93,152.46 L593.27,152.15 L594.61,151.84 L595.94,151.53 L597.28,151.23 L598.61,150.92 L599.95,150.62 L601.29,150.32 L602.62,150.02 L603.96,149.72 L605.30,149.42 L606.63,149.12 L607.97,148.83 L609.30,148.54 L610.64,148.24 L611.98,147.95 L613.31,147.66 L614.65,147.38 L615.99,147.09 L617.32,146.80 L618.66,146.52 L620.00,146.23 L621.33,145.95 L622.67,145.67 L624.00,145.39 L625.34,145.11 L626.68,144.83 L628.01,144.55 L629.35,144.27 L630.69,144.00 L632.02,143.73 L633.36,143.45 L634.69,143.18 L636.03,142.91 L637.37,142.64 L638.70,142.38 L640.04,142.11 L641.38,141.85 L642.71,141.58 L644.05,141.32 L645.38,141.06 L646.72,140.80 L648.06,140.54 L649.39,140.28 L650.73,140.02 L652.07,139.76 L653.40,139.51 L654.74,139.25 L656.08,139.00 L657.41,138.75 L658.75,138.50 L660.08,138.24 L661.42,137.99 L662.76,137.75 L664.09,137.50 L665.43,137.25 L666.77,137.01 L668.10,136.76 L669.44,136.52 L670.77,136.27 L672.11,136.03 L673.45,135.79 L674.78,135.55 L676.12,135.31 L677.46,135.08 L678.79,134.84 L680.13,134.60 L681.46,134.37 L682.80,134.13 L684.14,133.90 L685.47,133.67 L686.81,133.44 L688.15,133.21 L689.48,132.98 L690.82,132.75 L692.15,132.52 L693.49,132.30 L694.83,132.07 L696.16,131.86 L697.50,131.65" stroke="#f00" stroke-width="0.75"/>
<path d="M123.78,24.30 L123.83,25.24 L124.06,30.01 L124.29,34.63 L124.52,39.12 L124.75,43.48 L124.98,47.72 L125.22,51.84 L125.45,55.86 L125.68,59.77 L125.91,63.58 L126.14,67.30 L126.37,70.92 L126.60,74.47 L126.84,77.92 L127.07,81.30 L127.30,84.61 L127.53,87.84 L127.76,91.00 L127.99,94.09 L128.22,97.12 L128.45,100.08 L128.69,102.99 L128.92,105.83 L129.15,108.62 L129.38,111.36 L129.61,114.04 L129.84,116.68 L130.07,119.26 L130.31,121.79 L130.54,124.28 L130.77,126.73 L131.00,129.13 L131.23,131.49 L131.46,133.81 L131.69,136.09 L131.93,138.33 L132.16,140.53 L132.39,142.69 L132.62,144.82 L132.85,146.92 L133.08,148.98 L133.31,151.01 L133.55,153.01 L133.78,154.97 L134.01,156.91 L134.24,158.81 L134.47,160.69 L134.70,162.54 L134.93,164.36 L135.17,166.15 L135.40,167.91 L135.63,169.66 L135.86,171.37 L136.09,173.06 L136.32,174.73 L136.55,176.37 L136.79,177.99 L137.02,179.59 L137.25,181.16 L137.48,182.71 L137.71,184.24 L137.94,185.75 L138.17,187.24 L138.40,188.71 L138.64,190.16 L138.87,191.59 L139.10,193.00 L139.33,194.40 L139.56,195.77 L139.79,197.13 L140.02,198.47 L140.26,199.79 L140.49,201.09 L140.72,202.38 L140.95,203.65 L141.18,204.91 L141.41,206.15 L141.64,207.37 L141.88,208.58 L142.11,209.77 L142.34,210.95 L142.57,212.12 L142.80,213.27 L143.03,214.40 L143.26,215.52 L143.50,216.63 L143.73,217.73 L143.96,218.81 L144.19,219.88 L144.42,220.93 L144.65,221.98 L144.88,223.01 L145.12,224.03 L145.35,225.03 L145.58,226.03 L145.81,227.01 L146.04,227.98 L146.27,228.94 L146.50,229.88 L146.73,230.82 L146.97,231.75 L147.20,232.66 L147.43,233.56 L147.66,234.46 L147.89,235.34 L148.12,236.22 L148.35,237.08 L148.59,237.93 L148.82,238.78 L149.05,239.61 L149.28,240.44 L149.51,241.25 L149.74,242.06 L149.97,242.86 L150.21,243.64 L150.44,244.41 L150.67,245.18 L150.90,245.93 L151.13,246.68 L151.36,247.42 L151.59,248.15 L151.83,248.87 L152.06,249.58 L152.29,250.29 L152.52,250.99 L152.75,251.68 L152.98,252.36 L153.21,253.03 L153.45,253.70 L153.68,254.36 L153.91,255.01 L154.14,255.66 L154.37,256.30 L154.60,256.93 L154.83,257.55 L155.07,258.17 L155.30,258.78 L155.53,259.39 L155.76,259.98 L155.99,260.58 L156.22,261.16 L156.45,261.74 L156.68,262.31 L156.92,262.88 L157.15,263.44 L157.38,263.99 L157.61,264.54 L157.84,265.08 L158.07,265.61 L158.30,266.14 L158.54,266.67 L158.77,267.18 L159.00,267.70 L159.23,268.20 L159.46,268.70 L159.69,269.20 L159.92,269.69 L160.16,270.18 L160.39,270.68 L160.62,271.17 L160.85,271.65 L161.08,272.13 L161.31,272.60 L161.54,273.07 L161.78,273.53 L162.01,273.99 L162.24,274.44 L162.47,274.89 L162.70,275.33 L162.93,275.77 L163.16,276.21 L163.40,276.64 L163.63,277.06 L163.86,277.48 L164.09,277.90 L164.32,278.31 L165.66,280.62 L166.99,282.82 L168.33,284.88 L169.67,286.83 L171.00,288.63 L172.34,290.31 L173.67,291.89 L175.01,293.37 L176.35,294.72 L177.68,295.97 L179.02,297.14 L180.36,298.21 L181.69,299.18 L183.03,300.07 L184.37,300.88 L185.70,301.61 L187.04,302.26 L188.37,302.85 L189.71,303.38 L191.05,303.86 L192.38,304.30 L193.72,304.68 L195.06,305.02 L196.39,305.33 L197.73,305.60 L199.06,305.82 L200.40,306.01 L201.74,306.17 L203.07,306.30 L204.41,306.38 L205.75,306.45 L207.08,306.49 L208.42,306.50 L209.75,306.48 L211.09,306.45 L212.43,306.39 L213.76,306.31 L215.10,306.20 L216.44,306.07 L217.77,305.93 L219.11,305.76 L220.44,305.57 L221.78,305.38 L223.12,305.17 L224.45,304.94 L225.79,304.69 L227.13,304.43 L228.46,304.16 L229.80,303.87 L231.14,303.55 L232.47,303.21 L233.81,302.85 L235.14,302.48 L236.48,302.08 L237.82,301.67 L239.15,301.24 L240.49,300.80 L241.83,300.35 L243.16,299.88 L244.50,299.41 L245.83,298.92 L247.17,298.43 L248.51,297.93 L249.84,297.42 L251.18,296.91 L252.52,296.39 L253.85,295.86 L255.19,295.32 L256.52,294.78 L257.86,294.23 L259.20,293.68 L260.53,293.12 L261.87,292.55 L263.21,291.97 L264.54,291.38 L265.88,290.78 L267.22,290.16 L268.55,289.53 L269.89,288.90 L271.22,288.25 L272.56,287.59 L273.90,286.92 L275.23,286.25 L276.57,285.59 L277.91,284.93 L279.24,284.26 L280.58,283.60 L281.91,282.94 L283.25,282.29 L284.59,281.63 L285.92,280.97 L287.26,280.31 L288.60,279.65 L289.93,278.99 L291.27,278.33 L292.60,277.67 L293.94,277.01 L295.28,276.35 L296.61,275.69 L297.95,275.03 L299.29,274.36 L300.62,273.70 L301.96,273.05 L303.29,272.39 L304.63,271.73 L305.97,271.07 L307.30,270.42 L308.64,269.77 L309.98,269.11 L311.31,268.47 L312.65,267.82 L313.99,267.17 L315.32,266.53 L316.66,265.88 L317.99,265.24 L319.33,264.60 L320.67,263.96 L322.00,263.32 L323.34,262.69 L324.68,262.05 L326.01,261.42 L327.35,260.78 L328.68,260.15 L330.02,259.52 L331.36,258.89 L332.69,258.26 L334.03,257.63 L335.37,257.00 L336.70,256.37 L338.04,255.74 L339.37,255.11 L340.71,254.49 L342.05,253.86 L343.38,253.23 L344.72,252.61 L346.06,251.99 L347.39,251.37 L348.73,250.75 L350.06,250.13 L351.40,249.51 L352.74,248.90 L354.07,248.28 L355.41,247.67 L356.75,247.06 L358.08,246.45 L359.42,245.84 L360.76,245.23 L362.09,244.62 L363.43,244.01 L364.76,243.40 L366.10,242.79 L367.44,242.19 L368.77,241.58 L370.11,240.97 L371.45,240.37 L372.78,239.76 L374.12,239.15 L375.45,238.55 L376.79,237.94 L378.13,237.34 L379.46,236.73 L380.80,236.13 L382.14,235.53 L383.47,234.92 L384.81,234.33 L386.14,233.73 L387.48,233.13 L388.82,232.54 L390.15,231.95 L391.49,231.36 L392.83,230.77 L394.16,230.19 L395.50,229.61 L396.84,229.03 L398.17,228.46 L399.51,227.89 L400.84,227.32 L402.18,226.76 L403.52,226.20 L404.85,225.64 L406.19,225.09 L407.53,224.54 L408.86,223.99 L410.20,223.44 L411.53,222.89 L412.87,222.35 L414.21,221.81 L415.54,221.27 L416.88,220.73 L418.22,220.20 L419.55,219.67 L420.89,219.13 L422.22,218.60 L423.56,218.08 L424.90,217.55 L426.23,217.02 L427.57,216.50 L428.91,215.97 L430.24,215.45 L431.58,214.93 L432.91,214.40 L434.25,213.88 L435.59,213.36 L436.92,212.84 L438.26,212.32 L439.60,211.81 L440.93,211.29 L442.27,210.77 L443.61,210.26 L444.94,209.75 L446.28,209.24 L447.61,208.73 L448.95,208.23 L450.29,207.72 L451.62,207.22 L452.96,206.73 L454.30,206.23 L455.63,205.74 L456.97,205.25 L458.30,204.77 L459.64,204.29 L460.98,203.81 L462.31,203.34 L463.65,202.87 L464.99,202.41 L466.32,201.95 L467.66,201.49 L468.99,201.04 L470.33,200.59 L471.67,200.15 L473.00,199.70 L474.34,199.26 L475.68,198.82 L477.01,198.38 L478.35,197.95 L479.68,197.52 L481.02,197.08 L482.36,196.65 L483.69,196.21 L485.03,195.78 L486.37,195.35 L487.70,194.91 L489.04,194.48 L490.38,194.05 L491.71,193.62 L493.05,193.18 L494.38,192.75 L495.72,192.32 L497.06,191.90 L498.39,191.47 L499.73,191.05 L501.07,190.63 L502.40,190.21 L503.74,189.79 L505.07,189.37 L506.41,188.95 L507.75,188.54 L509.08,188.13 L510.42,187.72 L511.76,187.31 L513.09,186.91 L514.43,186.50 L515.76,186.10 L517.10,185.70 L518.44,185.30 L519.77,184.90 L521.11,184.50 L522.45,184.11 L523.78,183.71 L525.12,183.32 L526.46,182.93 L527.79,182.53 L529.13,182.14 L530.46,181.75 L531.80,181.37 L533.14,180.98 L534.47,180.60 L535.81,180.21 L537.15,179.83 L538.48,179.45 L539.82,179.08 L541.15,178.70 L542.49,178.33 L543.83,177.96 L545.16,177.59 L546.50,177.22 L547.84,176.86 L549.17,176.50 L550.51,176.14 L551.84,175.79 L553.18,175.44 L554.52,175.09 L555.85,174.75 L557.19,174.41 L558.53,174.07 L559.86,173.73 L561.20,173.40 L562.53,173.07 L563.87,172.74 L565.21,172.41 L566.54,172.08 L567.88,171.75 L569.22,171.43 L570.55,171.11 L571.89,170.78 L573.23,170.46 L574.56,170.14 L575.90,169.82 L577.23,169.50 L578.57,169.18 L579.91,168.86 L581.24,168.54 L582.58,168.22 L583.92,167.91 L585.25,167.59 L586.59,167.28 L587.92,166.96 L589.26,166.65 L590.60,166.34 L591.93,166.03 L593.27,165.72 L594.61,165.42 L595.94,165.11 L597.28,164.81 L598.61,164.51 L599.95,164.21 L601.29,163.91 L602.62,163.61 L603.96,163.32 L605.30,163.02 L606.63,162.73 L607.97,162.44 L609.30,162.15 L610.64,161.86 L611.98,161.57 L613.31,161.28 L614.65,160.99 L615.99,160.71 L617.32,160.42 L618.66,160.14 L620.00,159.86 L621.33,159.58 L622.67,159.30 L624.00,159.02 L625.34,158.75 L626.68,158.47 L628.01,158.19 L629.35,157.92 L630.69,157.65 L632.02,157.38 L633.36,157.11 L634.69,156.84 L636.03,156.57 L637.37,156.30 L638.70,156.04 L640.04,155.78 L641.38,155.51 L642.71,155.25 L644.05,154.99 L645.38,154.73 L646.72,154.47 L648.06,154.22 L649.39,153.96 L650.73,153.70 L652.07,153.45 L653.40,153.20 L654.74,152.94 L656.08,152.69 L657.41,152.44 L658.75,152.19 L660.08,151.95 L661.42,151.70 L662.76,151.45 L664.09,151.21 L665.43,150.96 L666.77,150.72 L668.10,150.47 L669.44,150.23 L670.77,149.99 L672.11,149.75 L673.45,149.51 L674.78,149.28 L676.12,149.04 L677.46,148.80 L678.79,148.57 L680.13,148.34 L681.46,148.10 L682.80,147.87 L684.14,147.64 L685.47,147.41 L686.81,147.18 L688.15,146.95 L689.48,146.73 L690.82,146.50 L692.15,146.28 L693.49,146.05 L694.83,145.83 L696.16,145.62 L697.50,145.41" stroke="#0f0" stroke-width="0.75"/>
<path d="M122.32,24.30 L122.44,27.41 L122.67,33.13 L122.90,38.64 L123.13,43.96 L123.36,49.10 L123.60,54.07 L123.83,58.89 L124.06,63.56 L124.29,68.09 L124.52,72.48 L124.75,76.75 L124.98,80.91 L125.22,84.95 L125.45,88.88 L125.68,92.71 L125.91,96.45 L126.14,100.09 L126.37,103.64 L126.60,107.11 L126.84,110.50 L127.07,113.81 L127.30,117.04 L127.53,120.21 L127.76,123.30 L127.99,126.33 L128.22,129.30 L128.45,132.20 L128.69,135.05 L128.92,137.84 L129.15,140.57 L129.38,143.25 L129.61,145.88 L129.84,148.46 L130.07,150.99 L130.31,153.47 L130.54,155.91 L130.77,158.31 L131.00,160.66 L131.23,162.97 L131.46,165.24 L131.69,167.47 L131.93,169.67 L132.16,171.82 L132.39,173.94 L132.62,176.03 L132.85,178.08 L133.08,180.10 L133.31,182.09 L133.55,184.05 L133.78,185.97 L134.01,187.87 L134.24,189.73 L134.47,191.57 L134.70,193.38 L134.93,195.16 L135.17,196.92 L135.40,198.65 L135.63,200.35 L135.86,202.03 L136.09,203.69 L136.32,205.32 L136.55,206.93 L136.79,208.52 L137.02,210.08 L137.25,211.62 L137.48,213.14 L137.71,214.64 L137.94,216.12 L138.17,217.58 L138.40,219.02 L138.64,220.44 L138.87,221.84 L139.10,223.23 L139.33,224.59 L139.56,225.94 L139.79,227.27 L140.02,228.58 L140.26,229.87 L140.49,231.15 L140.72,232.41 L140.95,233.66 L141.18,234.89 L141.41,236.10 L141.64,237.30 L141.88,238.48 L142.11,239.65 L142.34,240.81 L142.57,241.95 L142.80,243.08 L143.03,244.19 L143.26,245.29 L143.50,246.37 L143.73,247.45 L143.96,248.51 L144.19,249.55 L144.42,250.59 L144.65,251.61 L144.88,252.62 L145.12,253.62 L145.35,254.60 L145.58,255.57 L145.81,256.53 L146.04,257.48 L146.27,258.42 L146.50,259.35 L146.73,260.27 L146.97,261.18 L147.20,262.07 L147.43,262.96 L147.66,263.83 L147.89,264.70 L148.12,265.56 L148.35,266.40 L148.59,267.24 L148.82,268.07 L149.05,268.88 L149.28,269.69 L149.51,270.49 L149.74,271.28 L149.97,272.06 L150.21,272.83 L150.44,273.58 L150.67,274.33 L150.90,275.07 L151.13,275.80 L151.36,276.53 L151.59,277.24 L151.83,277.95 L152.06,278.65 L152.29,279.34 L152.52,280.02 L152.75,280.70 L152.98,281.37 L153.21,282.03 L153.45,282.68 L153.68,283.33 L153.91,283.97 L154.14,284.60 L154.37,285.23 L154.60,285.85 L154.83,286.46 L155.07,287.06 L155.30,287.66 L155.53,288.25 L155.76,288.84 L155.99,289.42 L156.22,289.99 L156.45,290.56 L156.68,291.12 L156.92,291.67 L157.15,292.22 L157.38,292.76 L157.61,293.30 L157.84,293.83 L158.07,294.35 L158.30,294.87 L158.54,295.38 L158.77,295.89 L159.00,296.39 L159.23,296.89 L159.46,297.38 L159.69,297.87 L159.92,298.35 L160.16,298.83 L160.39,299.31 L160.62,299.79 L160.85,300.26 L161.08,300.73 L161.31,301.20 L161.54,301.65 L161.78,302.11 L162.01,302.56 L162.24,303.00 L162.47,303.44 L162.70,303.87 L162.93,304.30 L163.16,304.73 L163.40,305.15 L163.63,305.57 L163.86,305.98 L164.09,306.38 L164.32,306.79 L165.66,309.05 L166.99,311.21 L168.33,313.23 L169.67,315.13 L171.00,316.90 L172.34,318.55 L173.67,320.10 L175.01,321.54 L176.35,322.86 L177.68,324.09 L179.02,325.23 L180.36,326.29 L181.69,327.23 L183.03,328.10 L184.37,328.90 L185.70,329.62 L187.04,330.25 L188.37,330.83 L189.71,331.35 L191.05,331.82 L192.38,332.25 L193.72,332.62 L195.06,332.95 L196.39,333.26 L197.73,333.52 L199.06,333.74 L200.40,333.93 L201.74,334.08 L203.07,334.20 L204.41,334.29 L205.75,334.35 L207.08,334.39 L208.42,334.40 L209.75,334.38 L211.09,334.35 L212.43,334.30 L213.76,334.21 L215.10,334.11 L216.44,333.99 L217.77,333.84 L219.11,333.68 L220.44,333.49 L221.78,333.31 L223.12,333.10 L224.45,332.87 L225.79,332.63 L227.13,332.38 L228.46,332.11 L229.80,331.83 L231.14,331.51 L232.47,331.18 L233.81,330.83 L235.14,330.47 L236.48,330.08 L237.82,329.67 L239.15,329.25 L240.49,328.82 L241.83,328.38 L243.16,327.92 L244.50,327.46 L245.83,326.98 L247.17,326.50 L248.51,326.01 L249.84,325.51 L251.18,325.01 L252.52,324.50 L253.85,323.98 L255.19,323.46 L256.52,322.93 L257.86,322.39 L259.20,321.85 L260.53,321.30 L261.87,320.73 L263.21,320.17 L264.54,319.60 L265.88,319.00 L267.22,318.39 L268.55,317.78 L269.89,317.17 L271.22,316.52 L272.56,315.88 L273.90,315.22 L275.23,314.57 L276.57,313.92 L277.91,313.27 L279.24,312.62 L280.58,311.97 L281.91,311.33 L283.25,310.68 L284.59,310.04 L285.92,309.39 L287.26,308.75 L288.60,308.10 L289.93,307.46 L291.27,306.81 L292.60,306.16 L293.94,305.52 L295.28,304.87 L296.61,304.22 L297.95,303.57 L299.29,302.92 L300.62,302.28 L301.96,301.63 L303.29,300.99 L304.63,300.34 L305.97,299.70 L307.30,299.06 L308.64,298.42 L309.98,297.78 L311.31,297.15 L312.65,296.51 L313.99,295.88 L315.32,295.25 L316.66,294.62 L317.99,293.99 L319.33,293.36 L320.67,292.73 L322.00,292.11 L323.34,291.49 L324.68,290.86 L326.01,290.24 L327.35,289.62 L328.68,289.00 L330.02,288.38 L331.36,287.76 L332.69,287.15 L334.03,286.53 L335.37,285.91 L336.70,285.30 L338.04,284.68 L339.37,284.07 L340.71,283.45 L342.05,282.84 L343.38,282.23 L344.72,281.62 L346.06,281.01 L347.39,280.40 L348.73,279.79 L350.06,279.19 L351.40,278.58 L352.74,277.98 L354.07,277.38 L355.41,276.78 L356.75,276.18 L358.08,275.58 L359.42,274.98 L360.76,274.38 L362.09,273.78 L363.43,273.19 L364.76,272.59 L366.10,272.00 L367.44,271.40 L368.77,270.81 L370.11,270.22 L371.45,269.62 L372.78,269.03 L374.12,268.43 L375.45,267.84 L376.79,267.25 L378.13,266.65 L379.46,266.06 L380.80,265.47 L382.14,264.88 L383.47,264.29 L384.81,263.70 L386.14,263.12 L387.48,262.53 L388.82,261.95 L390.15,261.37 L391.49,260.80 L392.83,260.22 L394.16,259.65 L395.50,259.08 L396.84,258.52 L398.17,257.96 L399.51,257.40 L400.84,256.84 L402.18,256.29 L403.52,255.74 L404.85,255.20 L406.19,254.65 L407.53,254.11 L408.86,253.58 L410.20,253.04 L411.53,252.51 L412.87,251.97 L414.21,251.44 L415.54,250.92 L416.88,250.39 L418.22,249.87 L419.55,249.34 L420.89,248.82 L422.22,248.30 L423.56,247.79 L424.90,247.27 L426.23,246.75 L427.57,246.24 L428.91,245.73 L430.24,245.21 L431.58,244.70 L432.91,244.19 L434.25,243.68 L435.59,243.17 L436.92,242.66 L438.26,242.15 L439.60,241.64 L440.93,241.14 L442.27,240.63 L443.61,240.13 L444.94,239.63 L446.28,239.13 L447.61,238.63 L448.95,238.14 L450.29,237.65 L451.62,237.16 L452.96,236.67 L454.30,236.18 L455.63,235.70 L456.97,235.23 L458.30,234.75 L459.64,234.28 L460.98,233.81 L462.31,233.35 L463.65,232.89 L464.99,232.44 L466.32,231.99 L467.66,231.54 L468.99,231.10 L470.33,230.66 L471.67,230.22 L473.00,229.79 L474.34,229.36 L475.68,228.93 L477.01,228.50 L478.35,228.07 L479.68,227.65 L481.02,227.22 L482.36,226.80 L483.69,226.37 L485.03,225.95 L486.37,225.52 L487.70,225.10 L489.04,224.67 L490.38,224.25 L491.71,223.83 L493.05,223.40 L494.38,222.98 L495.72,222.56 L497.06,222.14 L498.39,221.73 L499.73,221.31 L501.07,220.90 L502.40,220.49 L503.74,220.08 L505.07,219.67 L506.41,219.26 L507.75,218.86 L509.08,218.45 L510.42,218.05 L511.76,217.65 L513.09,217.25 L514.43,216.86 L515.76,216.46 L517.10,216.07 L518.44,215.68 L519.77,215.29 L521.11,214.90 L522.45,214.51 L523.78,214.12 L525.12,213.74 L526.46,213.35 L527.79,212.97 L529.13,212.59 L530.46,212.21 L531.80,211.83 L533.14,211.45 L534.47,211.07 L535.81,210.70 L537.15,210.32 L538.48,209.95 L539.82,209.58 L541.15,209.22 L542.49,208.85 L543.83,208.49 L545.16,208.13 L546.50,207.77 L547.84,207.41 L549.17,207.06 L550.51,206.71 L551.84,206.37 L553.18,206.02 L554.52,205.68 L555.85,205.34 L557.19,205.01 L558.53,204.68 L559.86,204.35 L561.20,204.02 L562.53,203.70 L563.87,203.37 L565.21,203.05 L566.54,202.73 L567.88,202.41 L569.22,202.09 L570.55,201.78 L571.89,201.46 L573.23,201.15 L574.56,200.83 L575.90,200.52 L577.23,200.20 L578.57,199.89 L579.91,199.58 L581.24,199.26 L582.58,198.95 L583.92,198.64 L585.25,198.33 L586.59,198.02 L587.92,197.72 L589.26,197.41 L590.60,197.11 L591.93,196.81 L593.27,196.50 L594.61,196.20 L595.94,195.91 L597.28,195.61 L598.61,195.31 L599.95,195.02 L601.29,194.73 L602.62,194.44 L603.96,194.15 L605.30,193.86 L606.63,193.57 L607.97,193.28 L609.30,193.00 L610.64,192.71 L611.98,192.43 L613.31,192.15 L614.65,191.87 L615.99,191.59 L617.32,191.31 L618.66,191.04 L620.00,190.76 L621.33,190.49 L622.67,190.21 L624.00,189.94 L625.34,189.67 L626.68,189.40 L628.01,189.13 L629.35,188.86 L630.69,188.59 L632.02,188.33 L633.36,188.06 L634.69,187.80 L636.03,187.54 L637.37,187.28 L638.70,187.02 L640.04,186.76 L641.38,186.50 L642.71,186.25 L644.05,185.99 L645.38,185.74 L646.72,185.48 L648.06,185.23 L649.39,184.98 L650.73,184.73 L652.07,184.48 L653.40,184.23 L654.74,183.99 L656.08,183.74 L657.41,183.49 L658.75,183.25 L660.08,183.01 L661.42,182.76 L662.76,182.52 L664.09,182.28 L665.43,182.04 L666.77,181.80 L668.10,181.57 L669.44,181.33 L670.77,181.09 L672.11,180.86 L673.45,180.63 L674.78,180.39 L676.12,180.16 L677.46,179.93 L678.79,179.70 L680.13,179.47 L681.46,179.24 L682.80,179.02 L684.14,178.79 L685.47,178.56 L686.81,178.34 L688.15,178.12 L689.48,177.89 L690.82,177.67 L692.15,177.45 L693.49,177.23 L694.83,177.02 L696.16,176.81 L697.50,176.60" stroke="#00f" stroke-width="0.75"/>
<path d="M125.73,24.30 L125.91,27.37 L126.14,31.17 L126.37,34.88 L126.60,38.50 L126.84,42.04 L127.07,45.49 L127.30,48.87 L127.53,52.17 L127.76,55.40 L127.99,58.57 L128.22,61.66 L128.45,64.69 L128.69,67.66 L128.92,70.58 L129.15,73.43 L129.38,76.23 L129.61,78.97 L129.84,81.66 L130.07,84.30 L130.31,86.90 L130.54,89.44 L130.77,91.94 L131.00,94.40 L131.23,96.81 L131.46,99.18 L131.69,101.51 L131.93,103.80 L132.16,106.05 L132.39,108.27 L132.62,110.44 L132.85,112.59 L133.08,114.70 L133.31,116.77 L133.55,118.81 L133.78,120.82 L134.01,122.80 L134.24,124.75 L134.47,126.67 L134.70,128.55 L134.93,130.42 L135.17,132.25 L135.40,134.05 L135.63,135.83 L135.86,137.59 L136.09,139.32 L136.32,141.02 L136.55,142.70 L136.79,144.36 L137.02,145.99 L137.25,147.60 L137.48,149.18 L137.71,150.75 L137.94,152.29 L138.17,153.82 L138.40,155.32 L138.64,156.80 L138.87,158.27 L139.10,159.71 L139.33,161.13 L139.56,162.54 L139.79,163.93 L140.02,165.29 L140.26,166.65 L140.49,167.98 L140.72,169.30 L140.95,170.60 L141.18,171.88 L141.41,173.15 L141.64,174.40 L141.88,175.64 L142.11,176.86 L142.34,178.06 L142.57,179.25 L142.80,180.43 L143.03,181.59 L143.26,182.74 L143.50,183.87 L143.73,184.99 L143.96,186.10 L144.19,187.19 L144.42,188.27 L144.65,189.33 L144.88,190.39 L145.12,191.43 L145.35,192.46 L145.58,193.47 L145.81,194.48 L146.04,195.47 L146.27,196.45 L146.50,197.42 L146.73,198.38 L146.97,199.32 L147.20,200.26 L147.43,201.18 L147.66,202.10 L147.89,203.00 L148.12,203.89 L148.35,204.78 L148.59,205.65 L148.82,206.51 L149.05,207.37 L149.28,208.21 L149.51,209.04 L149.74,209.87 L149.97,210.68 L150.21,211.48 L150.44,212.27 L150.67,213.05 L150.90,213.83 L151.13,214.59 L151.36,215.35 L151.59,216.09 L151.83,216.83 L152.06,217.56 L152.29,218.28 L152.52,219.00 L152.75,219.70 L152.98,220.40 L153.21,221.09 L153.45,221.77 L153.68,222.45 L153.91,223.11 L154.14,223.77 L154.37,224.43 L154.60,225.07 L154.83,225.71 L155.07,226.34 L155.30,226.97 L155.53,227.59 L155.76,228.20 L155.99,228.80 L156.22,229.40 L156.45,229.99 L156.68,230.58 L156.92,231.15 L157.15,231.73 L157.38,232.29 L157.61,232.85 L157.84,233.41 L158.07,233.95 L158.30,234.49 L158.54,235.03 L158.77,235.56 L159.00,236.08 L159.23,236.60 L159.46,237.11 L159.69,237.62 L159.92,238.12 L160.16,238.63 L160.39,239.13 L160.62,239.63 L160.85,240.12 L161.08,240.61 L161.31,241.10 L161.54,241.58 L161.78,242.05 L162.01,242.52 L162.24,242.98 L162.47,243.44 L162.70,243.89 L162.93,244.34 L163.16,244.78 L163.40,245.22 L163.63,245.66 L163.86,246.09 L164.09,246.51 L164.32,246.93 L165.66,249.30 L166.99,251.54 L168.33,253.66 L169.67,255.64 L171.00,257.49 L172.34,259.21 L173.67,260.82 L175.01,262.34 L176.35,263.71 L177.68,264.99 L179.02,266.19 L180.36,267.29 L181.69,268.27 L183.03,269.18 L184.37,270.02 L185.70,270.76 L187.04,271.43 L188.37,272.03 L189.71,272.57 L191.05,273.06 L192.38,273.51 L193.72,273.90 L195.06,274.25 L196.39,274.57 L197.73,274.84 L199.06,275.07 L200.40,275.26 L201.74,275.43 L203.07,275.55 L204.41,275.64 L205.75,275.71 L207.08,275.75 L208.42,275.76 L209.75,275.74 L211.09,275.70 L212.43,275.65 L213.76,275.56 L215.10,275.45 L216.44,275.32 L217.77,275.17 L219.11,275.00 L220.44,274.81 L221.78,274.61 L223.12,274.40 L224.45,274.16 L225.79,273.91 L227.13,273.65 L228.46,273.37 L229.80,273.07 L231.14,272.74 L232.47,272.39 L233.81,272.03 L235.14,271.65 L236.48,271.24 L237.82,270.82 L239.15,270.38 L240.49,269.93 L241.83,269.47 L243.16,268.99 L244.50,268.51 L245.83,268.01 L247.17,267.51 L248.51,267.00 L249.84,266.48 L251.18,265.95 L252.52,265.42 L253.85,264.88 L255.19,264.33 L256.52,263.78 L257.86,263.22 L259.20,262.65 L260.53,262.08 L261.87,261.49 L263.21,260.90 L264.54,260.30 L265.88,259.68 L267.22,259.05 L268.55,258.41 L269.89,257.77 L271.22,257.10 L272.56,256.42 L273.90,255.74 L275.23,255.06 L276.57,254.38 L277.91,253.70 L279.24,253.02 L280.58,252.34 L281.91,251.67 L283.25,251.00 L284.59,250.33 L285.92,249.65 L287.26,248.98 L288.60,248.31 L289.93,247.63 L291.27,246.96 L292.60,246.28 L293.94,245.61 L295.28,244.93 L296.61,244.25 L297.95,243.58 L299.29,242.90 L300.62,242.23 L301.96,241.55 L303.29,240.88 L304.63,240.21 L305.97,239.54 L307.30,238.87 L308.64,238.20 L309.98,237.53 L311.31,236.87 L312.65,236.21 L313.99,235.55 L315.32,234.89 L316.66,234.23 L317.99,233.57 L319.33,232.92 L320.67,232.26 L322.00,231.61 L323.34,230.96 L324.68,230.31 L326.01,229.66 L327.35,229.01 L328.68,228.37 L330.02,227.72 L331.36,227.07 L332.69,226.43 L334.03,225.79 L335.37,225.14 L336.70,224.50 L338.04,223.86 L339.37,223.21 L340.71,222.57 L342.05,221.93 L343.38,221.29 L344.72,220.66 L346.06,220.02 L347.39,219.39 L348.73,218.75 L350.06,218.12 L351.40,217.49 L352.74,216.86 L354.07,216.23 L355.41,215.60 L356.75,214.98 L358.08,214.35 L359.42,213.73 L360.76,213.11 L362.09,212.48 L363.43,211.86 L364.76,211.24 L366.10,210.62 L367.44,210.00 L368.77,209.38 L370.11,208.76 L371.45,208.14 L372.78,207.52 L374.12,206.90 L375.45,206.28 L376.79,205.66 L378.13,205.04 L379.46,204.42 L380.80,203.80 L382.14,203.19 L383.47,202.57 L384.81,201.96 L386.14,201.35 L387.48,200.74 L388.82,200.13 L390.15,199.53 L391.49,198.93 L392.83,198.33 L394.16,197.73 L395.50,197.14 L396.84,196.55 L398.17,195.96 L399.51,195.38 L400.84,194.80 L402.18,194.22 L403.52,193.65 L404.85,193.08 L406.19,192.51 L407.53,191.95 L408.86,191.39 L410.20,190.83 L411.53,190.27 L412.87,189.72 L414.21,189.16 L415.54,188.61 L416.88,188.06 L418.22,187.52 L419.55,186.97 L420.89,186.43 L422.22,185.88 L423.56,185.34 L424.90,184.81 L426.23,184.27 L427.57,183.73 L428.91,183.19 L430.24,182.66 L431.58,182.12 L432.91,181.59 L434.25,181.06 L435.59,180.53 L436.92,179.99 L438.26,179.46 L439.60,178.93 L440.93,178.41 L442.27,177.88 L443.61,177.35 L444.94,176.83 L446.28,176.31 L447.61,175.79 L448.95,175.27 L450.29,174.76 L451.62,174.25 L452.96,173.74 L454.30,173.23 L455.63,172.73 L456.97,172.23 L458.30,171.74 L459.64,171.24 L460.98,170.76 L462.31,170.28 L463.65,169.80 L464.99,169.32 L466.32,168.85 L467.66,168.39 L468.99,167.93 L470.33,167.47 L471.67,167.01 L473.00,166.56 L474.34,166.11 L475.68,165.66 L477.01,165.21 L478.35,164.77 L479.68,164.32 L481.02,163.88 L482.36,163.43 L483.69,162.99 L485.03,162.55 L486.37,162.11 L487.70,161.66 L489.04,161.22 L490.38,160.78 L491.71,160.33 L493.05,159.89 L494.38,159.45 L495.72,159.01 L497.06,158.58 L498.39,158.14 L499.73,157.71 L501.07,157.28 L502.40,156.85 L503.74,156.42 L505.07,155.99 L506.41,155.57 L507.75,155.15 L509.08,154.72 L510.42,154.31 L511.76,153.89 L513.09,153.47 L514.43,153.06 L515.76,152.65 L517.10,152.24 L518.44,151.83 L519.77,151.42 L521.11,151.02 L522.45,150.61 L523.78,150.21 L525.12,149.81 L526.46,149.40 L527.79,149.00 L529.13,148.60 L530.46,148.21 L531.80,147.81 L533.14,147.41 L534.47,147.02 L535.81,146.63 L537.15,146.24 L538.48,145.85 L539.82,145.47 L541.15,145.08 L542.49,144.70 L543.83,144.32 L545.16,143.95 L546.50,143.57 L547.84,143.20 L549.17,142.83 L550.51,142.47 L551.84,142.11 L553.18,141.75 L554.52,141.39 L555.85,141.04 L557.19,140.69 L558.53,140.35 L559.86,140.00 L561.20,139.66 L562.53,139.32 L563.87,138.98 L565.21,138.65 L566.54,138.31 L567.88,137.98 L569.22,137.65 L570.55,137.32 L571.89,136.99 L573.23,136.66 L574.56,136.33 L575.90,136.00 L577.23,135.68 L578.57,135.35 L579.91,135.02 L581.24,134.70 L582.58,134.37 L583.92,134.05 L585.25,133.72 L586.59,133.40 L587.92,133.08 L589.26,132.76 L590.60,132.45 L591.93,132.13 L593.27,131.81 L594.61,131.50 L595.94,131.19 L597.28,130.88 L598.61,130.57 L599.95,130.27 L601.29,129.96 L602.62,129.66 L603.96,129.35 L605.30,129.05 L606.63,128.75 L607.97,128.45 L609.30,128.16 L610.64,127.86 L611.98,127.56 L613.31,127.27 L614.65,126.98 L615.99,126.69 L617.32,126.40 L618.66,126.11 L620.00,125.82 L621.33,125.53 L622.67,125.25 L624.00,124.96 L625.34,124.68 L626.68,124.40 L628.01,124.12 L629.35,123.84 L630.69,123.56 L632.02,123.28 L633.36,123.00 L634.69,122.73 L636.03,122.46 L637.37,122.18 L638.70,121.91 L640.04,121.64 L641.38,121.37 L642.71,121.11 L644.05,120.84 L645.38,120.58 L646.72,120.31 L648.06,120.05 L649.39,119.79 L650.73,119.52 L652.07,119.26 L653.40,119.01 L654.74,118.75 L656.08,118.49 L657.41,118.23 L658.75,117.98 L660.08,117.73 L661.42,117.47 L662.76,117.22 L664.09,116.97 L665.43,116.72 L666.77,116.47 L668.10,116.22 L669.44,115.98 L670.77,115.73 L672.11,115.48 L673.45,115.24 L674.78,115.00 L676.12,114.76 L677.46,114.51 L678.79,114.27 L680.13,114.03 L681.46,113.80 L682.80,113.56 L684.14,113.32 L685.47,113.09 L686.81,112.85 L688.15,112.62 L689.48,112.39 L690.82,112.16 L692.15,111.93 L693.49,111.70 L694.83,111.47 L696.16,111.25 L697.50,111.04" stroke="#000" stroke-width="0.75"/>
<path d="M115.85,65.71H697.50" stroke="#f0f" stroke-width="0.75"/>
</g>
<path d="M619.30,254.62H673.40M619.30,251.42V257.82M673.40,251.42V257.82M644.35,254.62H648.35M646.35,252.17V257.07" stroke="#f00" stroke-width="0.85" fill="none"/><path d="M619.30,280.05H673.40M619.30,276.85V283.25M673.40,276.85V283.25M644.35,277.60L648.35,282.50M644.35,282.50L648.35,277.60" stroke="#0f0" stroke-width="0.85" fill="none"/><path d="M619.30,305.48H673.40M619.30,302.28V308.68M673.40,302.28V308.68M644.35,305.48H648.35M646.35,303.03V307.93M644.35,303.03L648.35,307.93M644.35,307.93L648.35,303.03" stroke="#00f" stroke-width="0.85" fill="none"/><path d="M619.30,330.91H673.40" stroke="#f00" stroke-width="0.75" fill="none"/><path d="M619.30,356.34H673.40" stroke="#0f0" stroke-width="0.75" fill="none"/><path d="M619.30,381.77H673.40" stroke="#00f" stroke-width="0.75" fill="none"/><path d="M619.30,407.20H673.40" stroke="#000" stroke-width="0.75" fill="none"/><path d="M619.30,432.63H673.40" stroke="#f0f" stroke-width="0.75" fill="none"/>
<path d="M115.85,451.65V445.25M115.85,24.25V30.65M212.81,451.65V445.25M212.81,24.25V30.65M309.77,451.65V445.25M309.77,24.25V30.65M406.73,451.65V445.25M406.73,24.25V30.65M503.68,451.65V445.25M503.68,24.25V30.65M600.64,451.65V445.25M600.64,24.25V30.65M697.60,451.65V445.25M697.60,24.25V30.65M115.85,451.65H122.25M697.60,451.65H691.20M115.85,390.59H122.25M697.60,390.59H691.20M115.85,329.54H122.25M697.60,329.54H691.20M115.85,268.48H122.25M697.60,268.48H691.20M115.85,207.42H122.25M697.60,207.42H691.20M115.85,146.36H122.25M697.60,146.36H691.20M115.85,85.31H122.25M697.60,85.31H691.20M115.85,24.25H122.25M697.60,24.25H691.20" stroke="#000" stroke-width="1" fill="none"/>
<rect x="115.85" y="24.25" width="581.75" height="427.40" fill="none" stroke="#000" stroke-width="1.25"/>
<g font-family="Liberation Sans, sans-serif" font-size="20" fill="#000"><text transform="translate(104,458.30) scale(1,1.04)" text-anchor="end">1</text><text transform="translate(104,397.27) scale(1,1.04)" text-anchor="end">1.05</text><text transform="translate(104,336.24) scale(1,1.04)" text-anchor="end">1.1</text><text transform="translate(104,275.21) scale(1,1.04)" text-anchor="end">1.15</text><text transform="translate(104,214.19) scale(1,1.04)" text-anchor="end">1.2</text><text transform="translate(104,153.16) scale(1,1.04)" text-anchor="end">1.25</text><text transform="translate(104,92.13) scale(1,1.04)" text-anchor="end">1.3</text><text transform="translate(104,31.10) scale(1,1.04)" text-anchor="end">1.35</text><text transform="translate(118.55,479.2) scale(1,1.04)" text-anchor="middle">0</text><text transform="translate(215.49,479.2) scale(1,1.04)" text-anchor="middle">2</text><text transform="translate(312.43,479.2) scale(1,1.04)" text-anchor="middle">4</text><text transform="translate(409.37,479.2) scale(1,1.04)" text-anchor="middle">6</text><text transform="translate(506.32,479.2) scale(1,1.04)" text-anchor="middle">8</text><text transform="translate(603.26,479.2) scale(1,1.04)" text-anchor="middle">10</text><text transform="translate(700.20,479.2) scale(1,1.04)" text-anchor="middle">12</text><text transform="translate(386.6,507.5) scale(1,1.04)">m r<tspan font-size="16" dy="5.3">Y</tspan></text><g transform="translate(28,292.8) rotate(-90)"><text transform="translate(0,0) scale(1,1.04)" word-spacing="0.5">G<tspan font-size="16" dy="5">3</tspan><tspan dy="-5"> / (F</tspan><tspan font-size="16" dy="5">I</tspan><tspan font-size="16" dy="-15.3">3</tspan><tspan dy="10.3"> g</tspan><tspan font-size="16" dy="5">Y</tspan><tspan dy="-5">)</tspan></text></g><text transform="translate(607.00,260.92) scale(1,1.04)" text-anchor="end"> = 0.6231</text><text transform="translate(512,260.92) scale(1,1.04)" font-family="Liberation Serif, serif" font-size="20" textLength="10.6" lengthAdjust="spacingAndGlyphs">β</text><text transform="translate(607.00,286.35) scale(1,1.04)" text-anchor="end"> = 0.6130</text><text transform="translate(512,286.35) scale(1,1.04)" font-family="Liberation Serif, serif" font-size="20" textLength="10.6" lengthAdjust="spacingAndGlyphs">β</text><text transform="translate(607.00,311.78) scale(1,1.04)" text-anchor="end"> = 0.5900</text><text transform="translate(512,311.78) scale(1,1.04)" font-family="Liberation Serif, serif" font-size="20" textLength="10.6" lengthAdjust="spacingAndGlyphs">β</text><text transform="translate(607.00,335.81) scale(1,1.04)" text-anchor="end"> / Y</text><text transform="translate(485.70,335.81) scale(1,1.04)" font-family="Liberation Serif, serif" textLength="12.0" lengthAdjust="spacingAndGlyphs">Γ</text><text transform="translate(498.26,340.81) scale(1,1.04)" font-size="16">3</text><text transform="translate(512.52,335.81) scale(1,1.04)">(Y +</text><text transform="translate(555.32,335.81) scale(1,1.04)" font-family="Liberation Serif, serif" textLength="14.4" lengthAdjust="spacingAndGlyphs">Λ</text><text transform="translate(570.34,335.81) scale(1,1.04)">)</text><text transform="translate(607.00,361.24) scale(1,1.04)" text-anchor="end"> / Y</text><text transform="translate(485.70,361.24) scale(1,1.04)" font-family="Liberation Serif, serif" textLength="12.0" lengthAdjust="spacingAndGlyphs">Γ</text><text transform="translate(498.26,366.24) scale(1,1.04)" font-size="16">2</text><text transform="translate(512.52,361.24) scale(1,1.04)">(Y +</text><text transform="translate(555.32,361.24) scale(1,1.04)" font-family="Liberation Serif, serif" textLength="14.4" lengthAdjust="spacingAndGlyphs">Λ</text><text transform="translate(570.34,361.24) scale(1,1.04)">)</text><text transform="translate(607.00,386.67) scale(1,1.04)" text-anchor="end"> / Y</text><text transform="translate(485.70,386.67) scale(1,1.04)" font-family="Liberation Serif, serif" textLength="12.0" lengthAdjust="spacingAndGlyphs">Γ</text><text transform="translate(498.26,391.67) scale(1,1.04)" font-size="16">1</text><text transform="translate(512.52,386.67) scale(1,1.04)">(Y +</text><text transform="translate(555.32,386.67) scale(1,1.04)" font-family="Liberation Serif, serif" textLength="14.4" lengthAdjust="spacingAndGlyphs">Λ</text><text transform="translate(570.34,386.67) scale(1,1.04)">)</text><text transform="translate(607.00,415.90) scale(1,1.04)" text-anchor="end"> / Y</text><text transform="translate(472.98,415.90) scale(1,1.04)">3</text><text transform="translate(484.30,405.70) scale(1,1.04)" font-size="16">1/4</text><text transform="translate(512.50,415.90) scale(1,1.04)">(Y +</text><text transform="translate(555.30,415.90) scale(1,1.04)" font-family="Liberation Serif, serif" textLength="14.4" lengthAdjust="spacingAndGlyphs">Λ</text><text transform="translate(570.32,415.90) scale(1,1.04)">)</text><text transform="translate(573.64,440.73) scale(1,1.04)">3</text><text transform="translate(584.76,430.53) scale(1,1.04)" font-size="16">1/4</text></g>
</svg>
</body></html>
